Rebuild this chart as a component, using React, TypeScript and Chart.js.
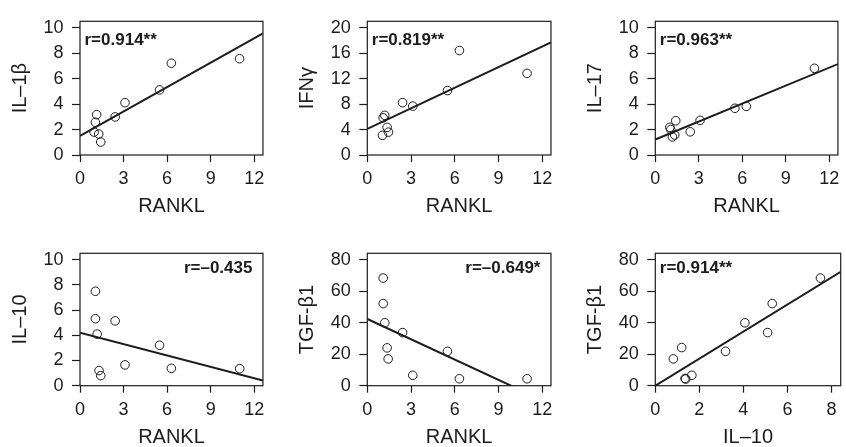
import React, { useEffect, useRef } from "react";
import { Chart, registerables } from "chart.js";

Chart.register(...registerables);

// ---------- data ----------
const rankTicks = [0, 3, 6, 9, 12];
const il10Ticks = [0, 2, 4, 6, 8];
const ticks10 = [0, 2, 4, 6, 8, 10];
const ticks20 = [0, 4, 8, 12, 16, 20];
const ticks80 = [0, 20, 40, 60, 80];

const p1Rankl = [0.97, 1.06, 1.15, 1.29, 1.43, 2.42, 3.1, 5.48, 6.29, 10.99];
const p1Il1b = [1.8, 2.57, 3.17, 1.65, 1.02, 2.99, 4.11, 5.11, 7.21, 7.56];
const p1Fit = [1.5, 0.639]; // intercept, slope

const p2Rankl = [1.04, 1.09, 1.2, 1.36, 1.45, 2.42, 3.12, 5.5, 6.32, 10.96];
const p2Ifng = [3.09, 5.84, 6.23, 4.34, 3.59, 8.23, 7.68, 10.12, 16.41, 12.82];
const p2Fit = [4.09, 1.078];

const p3Rankl = [1.0, 1.07, 1.18, 1.34, 1.41, 2.41, 3.09, 5.49, 6.28, 10.98];
const p3Il17 = [2.17, 2.0, 1.42, 1.57, 2.69, 1.82, 2.72, 3.67, 3.82, 6.81];
const p3Fit = [1.22, 0.47];

const p4Rankl = [1.06, 1.06, 1.18, 1.31, 1.43, 2.42, 3.1, 5.48, 6.29, 11.0];
const p4Il10 = [7.49, 5.31, 4.09, 1.2, 0.8, 5.14, 1.65, 3.21, 1.38, 1.35];
const p4Fit = [4.21, -0.302];

const p5Rankl = [1.09, 1.09, 1.2, 1.36, 1.43, 2.42, 3.12, 5.5, 6.32, 10.96];
const p5Tgf = [68.3, 52.1, 39.9, 24.0, 17.0, 33.7, 6.6, 21.8, 4.4, 4.4];
const p5Fit = [42.3, -4.29];

const p6Il10 = [7.5, 5.31, 4.07, 1.2, 0.82, 5.1, 1.66, 3.19, 1.38, 1.35];
const p6Tgf = [68.3, 52.1, 39.9, 24.2, 17.0, 33.7, 6.6, 21.8, 4.2, 4.6];
const p6Fit = [0.0, 8.58];

const labels = ["r=0.914**", "r=0.819**", "r=0.963**", "r=\u20130.435", "r=\u20130.649*", "r=0.914**"];
const yTitles = ["IL\u20131\u03b2", "IFN\u03b3", "IL\u201317", "IL\u201310", "TGF-\u03b21", "TGF-\u03b21"];
const xTitles = ["RANKL", "RANKL", "RANKL", "RANKL", "RANKL", "IL\u201310"];

// ---------- styling / layout ----------
const FONT = '"Liberation Sans", Arial, Helvetica, sans-serif';
const INK = "#1c1c1c";
const PLOT_L = [80, 367.3, 655.3];
const PLOT_R = [265.7, 553.3, 841];
const PLOT_T = [14.5, 246.5];
const PLOT_B = [155, 385.7];
const LABEL_DY = [19, 15.5];
const Y_W = 80;
const X_H = 63.5;

type PanelDef = {
  xs: number[];
  ys: number[];
  fit: number[];
  xMax: number;
  yMax: number;
  xTicks: number[];
  yTicks: number[];
  xTitle: string;
  yTitle: string;
  label: string;
  align: "left" | "right";
  col: number;
  row: number;
};

const panels: PanelDef[] = [
  { xs: p1Rankl, ys: p1Il1b, fit: p1Fit, xMax: 12.6, yMax: 10.5, xTicks: rankTicks, yTicks: ticks10, xTitle: xTitles[0], yTitle: yTitles[0], label: labels[0], align: "left", col: 0, row: 0 },
  { xs: p2Rankl, ys: p2Ifng, fit: p2Fit, xMax: 12.6, yMax: 21, xTicks: rankTicks, yTicks: ticks20, xTitle: xTitles[1], yTitle: yTitles[1], label: labels[1], align: "left", col: 1, row: 0 },
  { xs: p3Rankl, ys: p3Il17, fit: p3Fit, xMax: 12.6, yMax: 10.5, xTicks: rankTicks, yTicks: ticks10, xTitle: xTitles[2], yTitle: yTitles[2], label: labels[2], align: "left", col: 2, row: 0 },
  { xs: p4Rankl, ys: p4Il10, fit: p4Fit, xMax: 12.6, yMax: 10.5, xTicks: rankTicks, yTicks: ticks10, xTitle: xTitles[3], yTitle: yTitles[3], label: labels[3], align: "right", col: 0, row: 1 },
  { xs: p5Rankl, ys: p5Tgf, fit: p5Fit, xMax: 12.6, yMax: 84, xTicks: rankTicks, yTicks: ticks80, xTitle: xTitles[4], yTitle: yTitles[4], label: labels[4], align: "right", col: 1, row: 1 },
  { xs: p6Il10, ys: p6Tgf, fit: p6Fit, xMax: 8.42, yMax: 84, xTicks: il10Ticks, yTicks: ticks80, xTitle: xTitles[5], yTitle: yTitles[5], label: labels[5], align: "left", col: 2, row: 1 },
];

const framePlugin = {
  id: "frame",
  afterDatasetsDraw(chart: any, _args: any, opts: any) {
    const { ctx, chartArea } = chart;
    const { left, top, right, bottom } = chartArea;
    ctx.save();
    ctx.strokeStyle = INK;
    ctx.lineWidth = 1.2;
    ctx.strokeRect(left, top, right - left, bottom - top);
    ctx.font = `bold 17px ${FONT}`;
    ctx.fillStyle = INK;
    ctx.textBaseline = "middle";
    ctx.textAlign = opts.align;
    const x = opts.align === "left" ? left + 4.5 : right - 10.5;
    ctx.fillText(opts.text, x, top + opts.dy);
    ctx.restore();
  },
};

function Panel({ p }: { p: PanelDef }) {
  const ref = useRef<HTMLCanvasElement>(null);
  const plotL = PLOT_L[p.col];
  const plotR = PLOT_R[p.col];
  const plotT = PLOT_T[p.row];
  const plotB = PLOT_B[p.row];
  const cLeft = Math.floor(plotL) - Y_W;
  const yW = plotL - cLeft;
  const cTop = Math.floor(plotT) - 12;
  const padTop = plotT - cTop;
  const cW = Math.ceil(plotR + 5) - cLeft;
  const padRight = cLeft + cW - plotR;
  const cH = Math.ceil(plotB + X_H) - cTop;
  const padBottom = cTop + cH - (plotB + X_H);

  useEffect(() => {
    const canvas = ref.current!;
    const chart = new Chart(canvas, {
      type: "scatter",
      data: {
        datasets: [
          {
            type: "line",
            data: [
              { x: 0, y: p.fit[0] },
              { x: p.xMax, y: p.fit[0] + p.fit[1] * p.xMax },
            ],
            borderColor: INK,
            borderWidth: 2,
            pointRadius: 0,
            clip: 0,
          } as any,
          {
            data: p.xs.map((x, i) => ({ x, y: p.ys[i] })),
            pointRadius: 4.3,
            pointBorderWidth: 1,
            pointBorderColor: INK,
            pointBackgroundColor: "rgba(0,0,0,0)",
            showLine: false,
            clip: false,
          } as any,
        ],
      },
      options: {
        responsive: false,
        animation: false,
        events: [],
        layout: { padding: { top: padTop, right: padRight, bottom: padBottom, left: 0 } },
        plugins: {
          legend: { display: false },
          tooltip: { enabled: false },
          frame: { text: p.label, align: p.align, dy: LABEL_DY[p.row] },
        } as any,
        scales: {
          x: {
            type: "linear",
            min: 0,
            max: p.xMax,
            afterBuildTicks: (s: any) => {
              s.ticks = p.xTicks.map((v) => ({ value: v }));
            },
            afterFit: (s: any) => {
              s.height = X_H;
            },
            border: { display: false },
            grid: { display: true, drawOnChartArea: false, drawTicks: true, tickLength: 7, tickWidth: 1.2, tickColor: INK },
            ticks: { color: INK, font: { family: FONT, size: 18 }, padding: 6.5, maxRotation: 0, autoSkip: false },
            title: { display: true, text: p.xTitle, color: INK, font: { family: FONT, size: 20, lineHeight: 1.2 }, padding: { top: 0, bottom: 0 } },
          },
          y: {
            type: "linear",
            min: 0,
            max: p.yMax,
            afterBuildTicks: (s: any) => {
              s.ticks = p.yTicks.map((v) => ({ value: v }));
            },
            afterFit: (s: any) => {
              s.width = yW;
            },
            border: { display: false },
            grid: { display: true, drawOnChartArea: false, drawTicks: true, tickLength: 8, tickWidth: 1.2, tickColor: INK },
            ticks: { color: INK, font: { family: FONT, size: 18 }, padding: 8.5, autoSkip: false },
            title: { display: true, text: p.yTitle, color: INK, font: { family: FONT, size: 20, lineHeight: 1.2 }, padding: { top: 8, bottom: 0 } },
          },
        },
      } as any,
      plugins: [framePlugin],
    });
    return () => chart.destroy();
  }, []);

  return (
    <canvas
      ref={ref}
      width={cW}
      height={cH}
      style={{ position: "absolute", left: cLeft, top: cTop, width: cW, height: cH, display: "block" }}
    />
  );
}

export default function App() {
  return (
    <div
      style={{
        position: "absolute",
        left: 0,
        top: 0,
        width: 846,
        height: 447,
        overflow: "hidden",
        background: "#ffffff",
      }}
    >
      {panels.map((p, i) => (
        <Panel key={i} p={p} />
      ))}
    </div>
  );
}
